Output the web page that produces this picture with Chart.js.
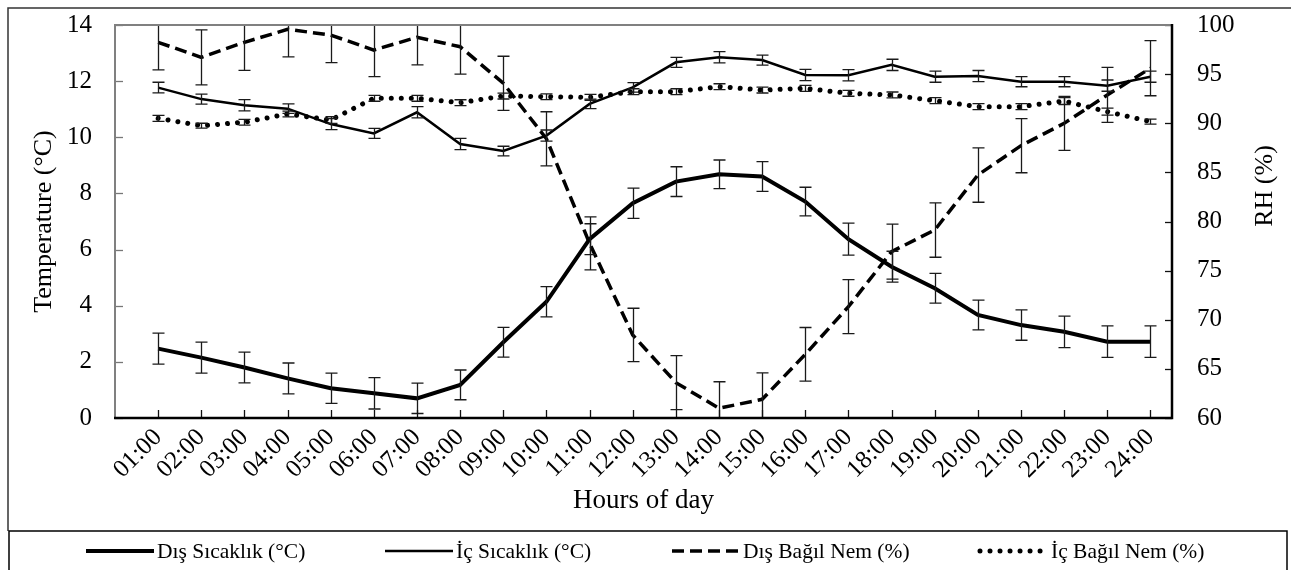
<!DOCTYPE html>
<html>
<head>
<meta charset="utf-8">
<script src="https://cdn.jsdelivr.net/npm/chart.js@4.4.1/dist/chart.umd.min.js"></script>
<style>
  html, body { margin: 0; padding: 0; background: #fff; }
  #wrap { width: 1291px; height: 570px; }
</style>
</head>
<body>
<div id="wrap"><canvas id="chart" width="1291" height="570"></canvas></div>
<script>
// hours on the x axis
const hours = ['01:00', '02:00', '03:00', '04:00', '05:00', '06:00', '07:00', '08:00',
    '09:00', '10:00', '11:00', '12:00', '13:00', '14:00', '15:00', '16:00',
    '17:00', '18:00', '19:00', '20:00', '21:00', '22:00', '23:00', '24:00'];

// temperatures (°C), left axis
const disSicaklik = [2.47, 2.15, 1.80, 1.41, 1.06, 0.88, 0.70, 1.18, 2.70, 4.14, 6.37, 7.65,
    8.42, 8.68, 8.60, 7.71, 6.37, 5.39, 4.62, 3.67, 3.31, 3.07, 2.72, 2.72];
const disSicaklikErr = [0.55, 0.55, 0.55, 0.55, 0.54, 0.56, 0.54, 0.53, 0.53, 0.54, 0.55, 0.54,
    0.53, 0.51, 0.53, 0.51, 0.57, 0.55, 0.53, 0.53, 0.54, 0.56, 0.56, 0.56];
const icSicaklik = [11.77, 11.36, 11.14, 11.02, 10.47, 10.14, 10.89, 9.76, 9.51, 10.06, 11.19, 11.78,
    12.67, 12.85, 12.75, 12.22, 12.21, 12.58, 12.16, 12.18, 11.98, 11.98, 11.84, 12.16];
const icSicaklikErr = [0.19, 0.18, 0.2, 0.17, 0.2, 0.18, 0.2, 0.2, 0.17, 0.2, 0.17, 0.17,
    0.18, 0.2, 0.18, 0.2, 0.2, 0.2, 0.2, 0.2, 0.18, 0.18, 0.2, 0.2];

// relative humidity (%), right axis
const disNem = [98.24, 96.71, 98.24, 99.56, 98.98, 97.45, 98.75, 97.79, 94.07, 88.42, 77.78, 68.45,
    63.6, 60.99, 61.9, 66.48, 71.33, 76.93, 79.13, 84.73, 87.72, 89.99, 92.88, 95.6];
const disNemErr = [2.8, 2.8, 2.85, 2.8, 2.8, 2.7, 2.8, 2.8, 2.75, 2.75, 2.7, 2.72,
    2.75, 2.7, 2.7, 2.73, 2.75, 2.8, 2.77, 2.77, 2.76, 2.75, 2.8, 2.8];
const icNem = [90.5, 89.75, 90.1, 90.94, 90.33, 92.54, 92.54, 92.09, 92.77, 92.7, 92.64, 93.21,
    93.21, 93.72, 93.38, 93.55, 93.05, 92.88, 92.3, 91.69, 91.69, 92.26, 91.18, 90.16];
const icNemErr = [0.3, 0.25, 0.3, 0.3, 0.35, 0.3, 0.3, 0.3, 0.3, 0.3, 0.3, 0.3,
    0.3, 0.3, 0.3, 0.3, 0.3, 0.3, 0.3, 0.3, 0.3, 0.35, 0.35, 0.25];

const FONT = "'Liberation Serif', 'Times New Roman', serif";

function points(values) {
    return values.map((v, i) => ({ x: i + 1, y: v }));
}

// error bars, drawn through the dataset's own y scale
const errorBars = {
    id: 'errorBars',
    afterDatasetsDraw(chart) {
        const ctx = chart.ctx;
        const area = chart.chartArea;
        ctx.save();
        ctx.beginPath();
        ctx.rect(area.left, area.top, area.right - area.left, area.bottom - area.top);
        ctx.clip();
        ctx.strokeStyle = '#1a1a1a';
        ctx.lineWidth = 1.3;
        chart.data.datasets.forEach(ds => {
            const xs = chart.scales.x;
            const ys = chart.scales[ds.yAxisID];
            ds.data.forEach((p, i) => {
                const e = ds.errors[i];
                const px = Math.round(xs.getPixelForValue(p.x)) + 0.5;
                const top = ys.getPixelForValue(p.y + e);
                const bot = ys.getPixelForValue(p.y - e);
                ctx.beginPath();
                ctx.moveTo(px, top); ctx.lineTo(px, bot);
                ctx.moveTo(px - 6, top); ctx.lineTo(px + 6, top);
                ctx.moveTo(px - 6, bot); ctx.lineTo(px + 6, bot);
                ctx.stroke();
            });
        });
        ctx.restore();
    }
};

// plot frame, inward ticks, right title, outer border and legend box
const frame = {
    id: 'frame',
    afterDraw(chart) {
        const ctx = chart.ctx;
        const a = chart.chartArea;
        const { x, y, y1 } = chart.scales;
        ctx.save();

        // outer border
        ctx.strokeStyle = '#333';
        ctx.lineWidth = 1.5;
        ctx.beginPath();
        ctx.moveTo(8, 531); ctx.lineTo(8, 8); ctx.lineTo(1291, 8);
        ctx.stroke();

        // inward tick marks
        ctx.lineWidth = 1.3;
        ctx.strokeStyle = '#777';
        y.ticks.forEach(t => {
            const py = Math.round(y.getPixelForValue(t.value)) + 0.5;
            ctx.beginPath(); ctx.moveTo(a.left, py); ctx.lineTo(a.left + 8, py); ctx.stroke();
        });
        ctx.strokeStyle = '#111';
        y1.ticks.forEach(t => {
            const py = Math.round(y1.getPixelForValue(t.value)) + 0.5;
            ctx.beginPath(); ctx.moveTo(a.right, py); ctx.lineTo(a.right - 7, py); ctx.stroke();
        });
        x.ticks.forEach(t => {
            const px = Math.round(x.getPixelForValue(t.value)) + 0.5;
            ctx.beginPath(); ctx.moveTo(px, a.bottom); ctx.lineTo(px, a.bottom - 8); ctx.stroke();
        });

        // plot borders: grey left/top, black bottom/right
        ctx.strokeStyle = '#808080';
        ctx.lineWidth = 2;
        ctx.beginPath();
        ctx.moveTo(a.left, a.bottom); ctx.lineTo(a.left, a.top); ctx.lineTo(a.right, a.top);
        ctx.stroke();
        ctx.strokeStyle = '#000';
        ctx.lineWidth = 2.5;
        ctx.beginPath();
        ctx.moveTo(a.left - 1, a.bottom); ctx.lineTo(a.right, a.bottom); ctx.lineTo(a.right, a.top - 1);
        ctx.stroke();

        // right axis title reads bottom to top
        ctx.fillStyle = '#000';
        ctx.font = '26px ' + FONT;
        ctx.textAlign = 'center';
        ctx.textBaseline = 'middle';
        ctx.translate(1265, 186);
        ctx.rotate(-Math.PI / 2);
        ctx.fillText('RH (%)', 0, 0);
        ctx.setTransform(1, 0, 0, 1, 0, 0);

        // legend box and items
        ctx.strokeStyle = '#000';
        ctx.lineWidth = 1.5;
        ctx.strokeRect(9, 531, 1278, 40);
        const starts = [86, 385, 672, 980];
        ctx.font = '21.5px ' + FONT;
        ctx.textAlign = 'left';
        chart.data.datasets.forEach((ds, i) => {
            const sx = starts[i];
            ctx.save();
            ctx.strokeStyle = ds.borderColor;
            ctx.lineWidth = ds.borderWidth;
            ctx.setLineDash(ds.borderDash || []);
            ctx.lineCap = ds.borderCapStyle || 'butt';
            ctx.beginPath();
            ctx.moveTo(sx, 551); ctx.lineTo(sx + 68, 551);
            ctx.stroke();
            ctx.restore();
            ctx.fillText(ds.label, sx + 71, 552);
        });
        ctx.restore();
    }
};

// keep tick-label overhang from pushing the plot area inwards
function fixVertical(width) {
    return scale => {
        scale.width = width;
        scale.paddingTop = 0;
        scale.paddingBottom = 0;
    };
}

const ctx = document.getElementById('chart').getContext('2d');
const chart = new Chart(ctx, {
    type: 'line',
    data: {
        datasets: [{
            label: 'Dış Sıcaklık (°C)',
            data: points(disSicaklik),
            errors: disSicaklikErr,
            yAxisID: 'y',
            borderColor: '#000',
            borderWidth: 4,
        }, {
            label: 'İç Sıcaklık (°C)',
            data: points(icSicaklik),
            errors: icSicaklikErr,
            yAxisID: 'y',
            borderColor: '#000',
            borderWidth: 2.5,
        }, {
            label: 'Dış Bağıl Nem (%)',
            data: points(disNem),
            errors: disNemErr,
            yAxisID: 'y1',
            borderColor: '#000',
            borderWidth: 3.5,
            borderDash: [12, 6],
        }, {
            label: 'İç Bağıl Nem (%)',
            data: points(icNem),
            errors: icNemErr,
            yAxisID: 'y1',
            borderColor: '#000',
            borderWidth: 5,
            borderDash: [0.01, 10],
            borderCapStyle: 'round',
        }],
    },
    options: {
        responsive: false,
        animation: false,
        devicePixelRatio: 1,
        layout: { padding: { top: 25, left: 0, right: 0, bottom: 39 } },
        elements: {
            point: { radius: 0, hoverRadius: 0 },
            line: { tension: 0, fill: false },
        },
        plugins: {
            legend: { display: false },
            tooltip: { enabled: false },
        },
        scales: {
            x: {
                type: 'linear',
                min: 0,
                max: 24.5,
                grid: { display: false, drawTicks: false },
                border: { display: false },
                afterBuildTicks: scale => {
                    scale.ticks = hours.map((h, i) => ({ value: i + 1 }));
                },
                afterFit: scale => { scale.height = 113; },
                ticks: {
                    autoSkip: false,
                    minRotation: 45,
                    maxRotation: 45,
                    padding: 5,
                    color: '#000',
                    font: { family: FONT, size: 25 },
                    callback: value => hours[value - 1] || '',
                },
                title: {
                    display: true,
                    text: 'Hours of day',
                    color: '#000',
                    font: { family: FONT, size: 27 },
                    padding: { top: 0, bottom: 14 },
                },
            },
            y: {
                position: 'left',
                min: 0,
                max: 14,
                grid: { display: false, drawTicks: false },
                border: { display: false },
                afterFit: fixVertical(115),
                ticks: {
                    stepSize: 2,
                    padding: 23,
                    color: '#000',
                    font: { family: FONT, size: 25 },
                },
                title: {
                    display: true,
                    text: 'Temperature (°C)',
                    color: '#000',
                    font: { family: FONT, size: 26 },
                    padding: { top: 29, bottom: 0 },
                },
            },
            y1: {
                position: 'right',
                min: 60,
                max: 100,
                grid: { display: false, drawTicks: false },
                border: { display: false },
                afterFit: fixVertical(119),
                ticks: {
                    stepSize: 5,
                    padding: 25,
                    color: '#000',
                    font: { family: FONT, size: 25 },
                },
            },
        },
    },
    plugins: [errorBars, frame],
});
</script>
</body>
</html>
